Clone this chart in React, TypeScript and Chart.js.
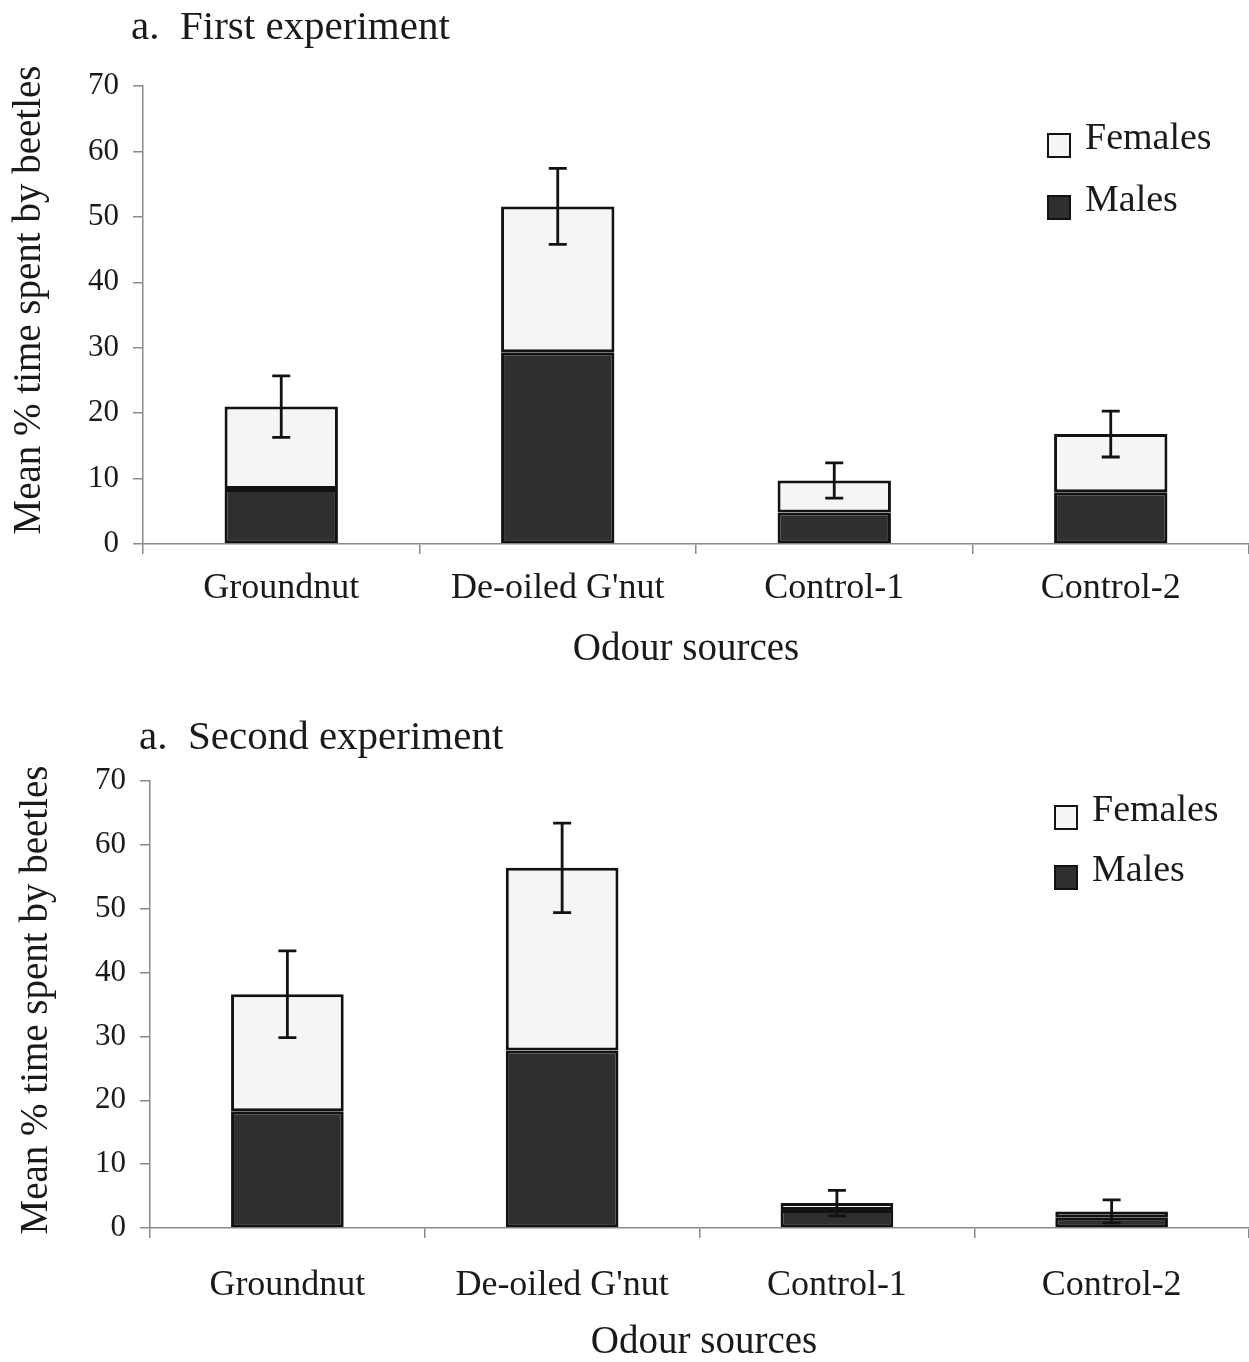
import React, { useEffect, useRef } from "react";
import { Chart, registerables } from "chart.js";

Chart.register(...registerables);

// ---------- data ----------
const categories = ["Groundnut", "De-oiled G'nut", "Control-1", "Control-2"];
const seriesLabels = ["Males", "Females"];
const yTickMin = 0;
const yTickMax = 70;
const yTickStep = 10;

const firstMales = [8.4, 29.3, 4.8, 7.9];
const firstFemales = [12.6, 22.3, 4.9, 8.9];
const firstErrors = [4.7, 5.8, 2.7, 3.5];

const secondMales = [18.3, 27.8, 2.8, 1.6];
const secondFemales = [18.3, 28.6, 1.1, 1.0];
const secondErrors = [6.8, 7.0, 2.0, 1.8];

const panelTitles = ["a.  First experiment", "a.  Second experiment"];
const yAxisTitle = "Mean % time spent by beetles";
const xAxisTitle = "Odour sources";

// ---------- styles ----------
const FONT = "'Liberation Serif', 'Times New Roman', Times, serif";
const MALE_COLOR = "#2f2f2f";
const FEMALE_COLOR = "#f5f5f5";
const EDGE = "#121212";
const AXIS = "#8a8a8a";

type Panel = {
  title: string;
  males: number[];
  females: number[];
  errors: number[];
  top: number;
  height: number;
  areaLeft: number;
  areaTop: number;
  areaBottom: number;
  xHeight: number;
  tickPad: number;
  titleX: number;
  titleY: number;
  xTitleX: number;
  xTitleY: number;
  yTitleX: number;
  yTitleY: number;
  legendX: number;
  legendY: number[];
};

const panels: Panel[] = [
  {
    title: panelTitles[0],
    males: firstMales,
    females: firstFemales,
    errors: firstErrors,
    top: 0,
    height: 680,
    areaLeft: 143,
    areaTop: 86,
    areaBottom: 544,
    xHeight: 80,
    tickPad: 13,
    titleX: 131,
    titleY: 39,
    xTitleX: 686,
    xTitleY: 650,
    yTitleX: 30,
    yTitleY: 300,
    legendX: 1048,
    legendY: [134, 196],
  },
  {
    title: panelTitles[1],
    males: secondMales,
    females: secondFemales,
    errors: secondErrors,
    top: 690,
    height: 672,
    areaLeft: 150,
    areaTop: 91,
    areaBottom: 538,
    xHeight: 90,
    tickPad: 26,
    titleX: 139,
    titleY: 59,
    xTitleX: 704,
    xTitleY: 653,
    yTitleX: 37,
    yTitleY: 310,
    legendX: 1055,
    legendY: [116, 176],
  },
];

function buildChart(canvas: HTMLCanvasElement, p: Panel): Chart {
  const decor = {
    id: "decor",
    afterDatasetsDraw(chart: any) {
      const ctx = chart.ctx as CanvasRenderingContext2D;
      const x = chart.scales.x;
      const y = chart.scales.y;
      ctx.save();
      ctx.strokeStyle = EDGE;
      ctx.lineWidth = 2.8;
      p.males.forEach((m, i) => {
        const total = m + p.females[i];
        const cx = x.getPixelForValue(i);
        const yHi = y.getPixelForValue(total + p.errors[i]);
        const yLo = y.getPixelForValue(total - p.errors[i]);
        ctx.beginPath();
        ctx.moveTo(cx, yHi);
        ctx.lineTo(cx, yLo);
        ctx.moveTo(cx - 9, yHi);
        ctx.lineTo(cx + 9, yHi);
        ctx.moveTo(cx - 9, yLo);
        ctx.lineTo(cx + 9, yLo);
        ctx.stroke();
      });
      ctx.restore();
    },
    afterDraw(chart: any) {
      const ctx = chart.ctx as CanvasRenderingContext2D;
      ctx.save();
      ctx.fillStyle = "#1a1a1a";
      // panel title
      ctx.font = `41px ${FONT}`;
      ctx.textAlign = "left";
      ctx.textBaseline = "alphabetic";
      ctx.fillText(p.title, p.titleX, p.titleY);
      // x axis title
      ctx.font = `39px ${FONT}`;
      ctx.textAlign = "center";
      ctx.textBaseline = "middle";
      ctx.fillText(xAxisTitle, p.xTitleX, p.xTitleY);
      // y axis title
      ctx.save();
      ctx.translate(p.yTitleX, p.yTitleY);
      ctx.rotate(-Math.PI / 2);
      ctx.font = `39px ${FONT}`;
      ctx.fillText(yAxisTitle, 0, 0);
      ctx.restore();
      // legend (Females above Males)
      const items = [chart.data.datasets[1], chart.data.datasets[0]];
      items.forEach((ds: any, k: number) => {
        const by = p.legendY[k];
        ctx.fillStyle = ds.backgroundColor;
        ctx.fillRect(p.legendX, by, 22, 23);
        ctx.strokeStyle = EDGE;
        ctx.lineWidth = 2;
        ctx.strokeRect(p.legendX, by, 22, 23);
        ctx.fillStyle = "#1a1a1a";
        ctx.font = `38px ${FONT}`;
        ctx.textAlign = "left";
        ctx.textBaseline = "alphabetic";
        ctx.fillText(ds.label, p.legendX + 37, by + 15);
      });
      ctx.restore();
    },
  };

  return new Chart(canvas, {
    type: "bar",
    data: {
      labels: categories,
      datasets: [
        {
          label: seriesLabels[0],
          data: p.males,
          backgroundColor: MALE_COLOR,
          borderColor: EDGE,
          borderWidth: 3,
          borderSkipped: false,
          barPercentage: 0.41,
          categoryPercentage: 1,
        },
        {
          label: seriesLabels[1],
          data: p.females,
          backgroundColor: FEMALE_COLOR,
          borderColor: EDGE,
          borderWidth: 3,
          borderSkipped: false,
          barPercentage: 0.41,
          categoryPercentage: 1,
        },
      ],
    },
    options: {
      responsive: false,
      animation: false,
      devicePixelRatio: 1,
      layout: {
        padding: {
          left: 0,
          right: 0,
          top: p.areaTop,
          bottom: p.height - p.areaBottom - p.xHeight,
        },
      },
      plugins: {
        legend: { display: false },
        title: { display: false },
        tooltip: { enabled: false },
      },
      scales: {
        x: {
          stacked: true,
          grid: {
            display: true,
            drawOnChartArea: false,
            drawTicks: true,
            tickLength: 10,
            color: AXIS,
            lineWidth: 1.5,
          },
          border: { display: true, color: AXIS, width: 1.5 },
          ticks: {
            color: "#1a1a1a",
            font: { family: FONT, size: 36 },
            padding: p.tickPad,
            maxRotation: 0,
            autoSkip: false,
          },
          afterFit(scale: any) {
            scale.height = p.xHeight;
          },
        },
        y: {
          stacked: true,
          min: yTickMin,
          max: yTickMax,
          ticks: {
            stepSize: yTickStep,
            color: "#1a1a1a",
            font: { family: FONT, size: 31 },
            padding: 14,
          },
          grid: {
            display: true,
            drawOnChartArea: false,
            drawTicks: true,
            tickLength: 10,
            color: AXIS,
            lineWidth: 1.5,
          },
          border: { display: true, color: AXIS, width: 1.5 },
          afterFit(scale: any) {
            scale.width = p.areaLeft;
          },
        },
      },
    },
    plugins: [decor],
  } as any);
}

function PanelChart({ panel }: { panel: Panel }) {
  const ref = useRef<HTMLCanvasElement | null>(null);
  useEffect(() => {
    if (!ref.current) return;
    const chart = buildChart(ref.current, panel);
    return () => chart.destroy();
  }, [panel]);
  return (
    <canvas
      ref={ref}
      width={1249}
      height={panel.height}
      style={{
        position: "absolute",
        left: 0,
        top: panel.top,
        width: 1249,
        height: panel.height,
      }}
    />
  );
}

export default function App() {
  return (
    <div
      style={{
        position: "absolute",
        left: 0,
        top: 0,
        width: 1249,
        height: 1362,
        background: "#ffffff",
      }}
    >
      {panels.map((p, i) => (
        <PanelChart key={i} panel={p} />
      ))}
    </div>
  );
}
